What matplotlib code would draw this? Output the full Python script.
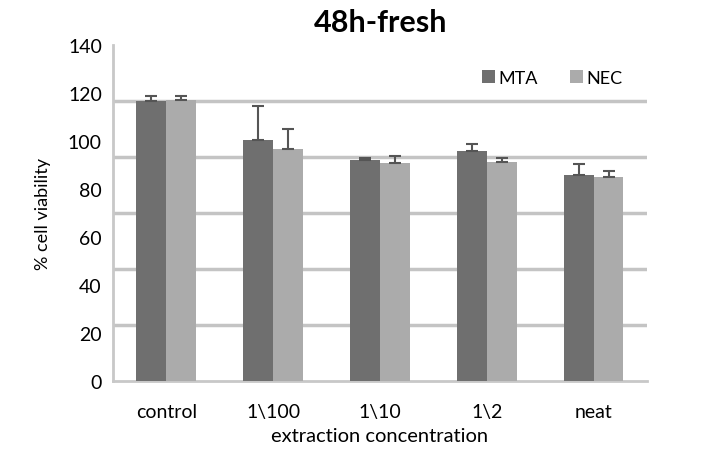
import matplotlib
matplotlib.use("Agg")
import matplotlib.pyplot as plt
import numpy as np

plt.rcParams['font.family'] = ['Lato', 'DejaVu Sans']

categories = ["control", "1\\100", "1\\10", "1\\2", "neat"]
mta = [116.8, 100.4, 92.2, 95.7, 85.8]
mta_err = [2.0, 14.0, 0.8, 3.0, 4.6]
nec = [117.0, 96.7, 90.7, 91.4, 84.9]
nec_err = [1.8, 8.5, 2.9, 1.6, 2.7]
y_ticks = [0, 20, 40, 60, 80, 100, 120, 140]

fig = plt.figure(figsize=(7.08, 4.56), dpi=100)
ax = fig.add_axes([0.1596, 0.1623, 0.9138 - 0.1596, 0.899 - 0.1623])

x = np.arange(len(categories))
w = 0.28
ax.bar(x - w / 2, mta, w, color="#6f6f6f", label="MTA", zorder=3,
       yerr=[np.zeros(len(mta)), mta_err], capsize=4,
       error_kw=dict(ecolor="#555555", elinewidth=1.5, capthick=1.5))
ax.bar(x + w / 2, nec, w, color="#ababab", label="NEC", zorder=3,
       yerr=[np.zeros(len(nec)), nec_err], capsize=4,
       error_kw=dict(ecolor="#555555", elinewidth=1.5, capthick=1.5))

ax.set_xlim(-0.5, len(categories) - 0.5)
ax.set_ylim(0, 140)
ax.set_yticks(y_ticks)
ax.set_yticks(np.linspace(0, 140, 7), minor=True)
ax.tick_params(axis='y', which='minor', length=0)
ax.grid(axis='y', which='minor', color="#c4c4c4", linewidth=2.5, zorder=0)
ax.set_xticks(x)
ax.set_xticklabels(categories)
ax.tick_params(axis='both', which='major', length=0, labelsize=14, pad=8)
ax.tick_params(axis='x', pad=16)

for s in ["top", "right"]:
    ax.spines[s].set_visible(False)
ax.spines["left"].set_color("#c8c8c8")
ax.spines["left"].set_linewidth(2)
ax.spines["bottom"].set_color("#c8c8c8")
ax.spines["bottom"].set_linewidth(2)

ax.set_ylabel("% cell viability", fontsize=13, labelpad=12)
ax.set_xlabel("extraction concentration", fontsize=14.5, labelpad=5)
fig.text(0.537, 0.95, "48h-fresh", fontsize=22, fontweight="bold", ha="center", va="center")

ax.legend(loc="upper right", bbox_to_anchor=(0.985, 0.975), ncol=2, frameon=False,
          fontsize=13, handlelength=0.7, handleheight=0.7, handletextpad=0.2,
          columnspacing=1.8)

fig.savefig("out.png", dpi=100)
